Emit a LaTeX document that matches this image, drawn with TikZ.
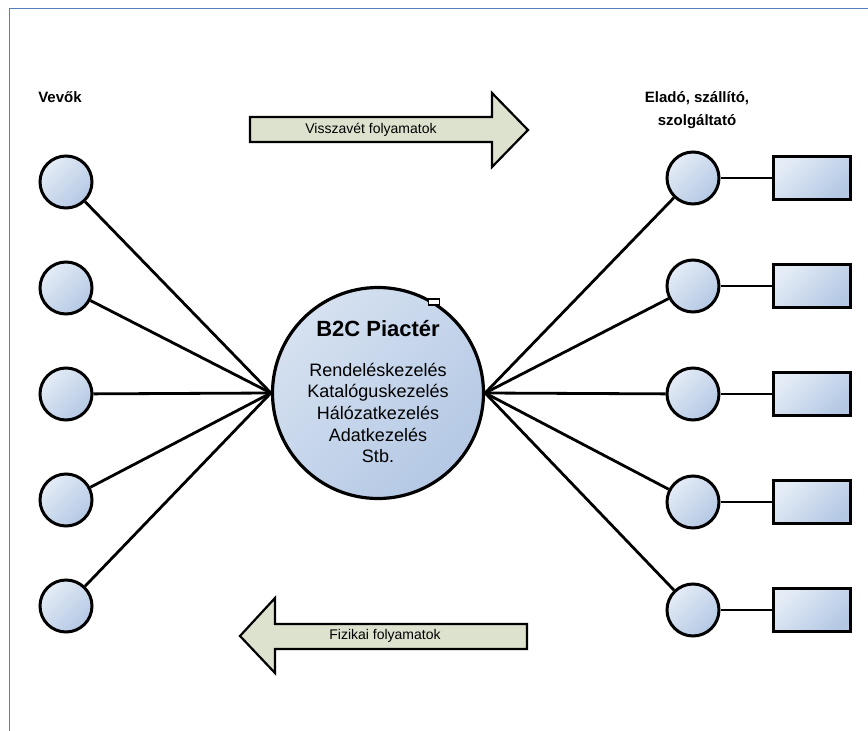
\documentclass[tikz,border=0pt]{standalone}
\usepackage{fontspec}
\setmainfont{Liberation Sans}
\definecolor{frameblue}{RGB}{79,129,189}
\definecolor{nodelight}{RGB}{228,236,246}
\definecolor{nodedark}{RGB}{180,200,228}
\definecolor{arrowfill}{RGB}{221,226,207}
\begin{document}
\begin{tikzpicture}[x=1pt, y=-1pt,
  main/.style = {draw, circle, line width=3pt, minimum size=52pt, inner sep=0pt, top color=nodelight, bottom color=nodedark, shading angle=45},
  box/.style = {draw, rectangle, line width=3pt, minimum width=77pt, minimum height=43pt, top color=nodelight, bottom color=nodedark, shading angle=45},
  hub/.style = {draw, circle, line width=3.2pt, minimum size=211pt, inner sep=0pt, top color=nodelight!70!nodedark, bottom color=nodedark, shading angle=45},
  flow/.style = {draw, line width=2.2pt, line join=miter, fill=arrowfill},
  link/.style = {line width=2.8pt}]
\useasboundingbox (0,0) rectangle (868,731);
\draw[frameblue, line width=1pt] (9,731) -- (9,8) -- (868,8);

\node[main] (1) at (66,182) {};
\node[main] (2) at (66,288) {};
\node[main] (3) at (66,394) {};
\node[main] (4) at (66,500) {};
\node[main] (5) at (66,606) {};

\node[main] (6) at (693,178) {};
\node[main] (7) at (693,286) {};
\node[main] (8) at (693,394) {};
\node[main] (9) at (693,502) {};
\node[main] (10) at (693,610) {};

\node[box] (11) at (812,178) {};
\node[box] (12) at (812,286) {};
\node[box] (13) at (812,394) {};
\node[box] (14) at (812,502) {};
\node[box] (15) at (812,610) {};

\node[hub] (p) at (378,393) {};
\node[draw, fill=white, line width=1.6pt, minimum width=11pt, minimum height=6pt, inner sep=0pt] (h) at (434,302) {};
\node[font=\bfseries\fontsize{22}{26}\selectfont] (title) at (378,329) {B2C Piactér};
\node[align=center, font=\fontsize{18}{21.7}\selectfont] (list) at (378,413) {Rendeléskezelés\\Katalóguskezelés\\Hálózatkezelés\\Adatkezelés\\Stb.};

\draw[link] (1) -- (p.west);
\draw[link] (2) -- (p.west);
\draw[link] (3) -- (p.west);
\draw[link] (4) -- (p.west);
\draw[link] (5) -- (p.west);

\draw[link] (p.east) -- (6);
\draw[link] (p.east) -- (7);
\draw[link] (p.east) -- (8);
\draw[link] (p.east) -- (9);
\draw[link] (p.east) -- (10);

\draw[link] (6) -- (11);
\draw[link] (7) -- (12);
\draw[link] (8) -- (13);
\draw[link] (9) -- (14);
\draw[link] (10) -- (15);

\draw[flow] (250,117) -- (492,117) -- (492,93) -- (528,130) -- (492,167) -- (492,142) -- (250,142) -- cycle;
\node[font=\fontsize{14}{16}\selectfont] (back) at (371,130) {Visszavét folyamatok};

\draw[flow] (527,624) -- (275,624) -- (275,598) -- (240,636) -- (275,673) -- (275,649) -- (527,649) -- cycle;
\node[font=\fontsize{14}{16}\selectfont] (phys) at (385,636) {Fizikai folyamatok};

\node[font=\bfseries\fontsize{15}{18}\selectfont] (vevok) at (60,97) {Vevők};
\node[align=center, font=\bfseries\fontsize{15}{23}\selectfont] (elado) at (697,110) {Eladó, szállító,\\szolgáltató};

\end{tikzpicture}
\end{document}
